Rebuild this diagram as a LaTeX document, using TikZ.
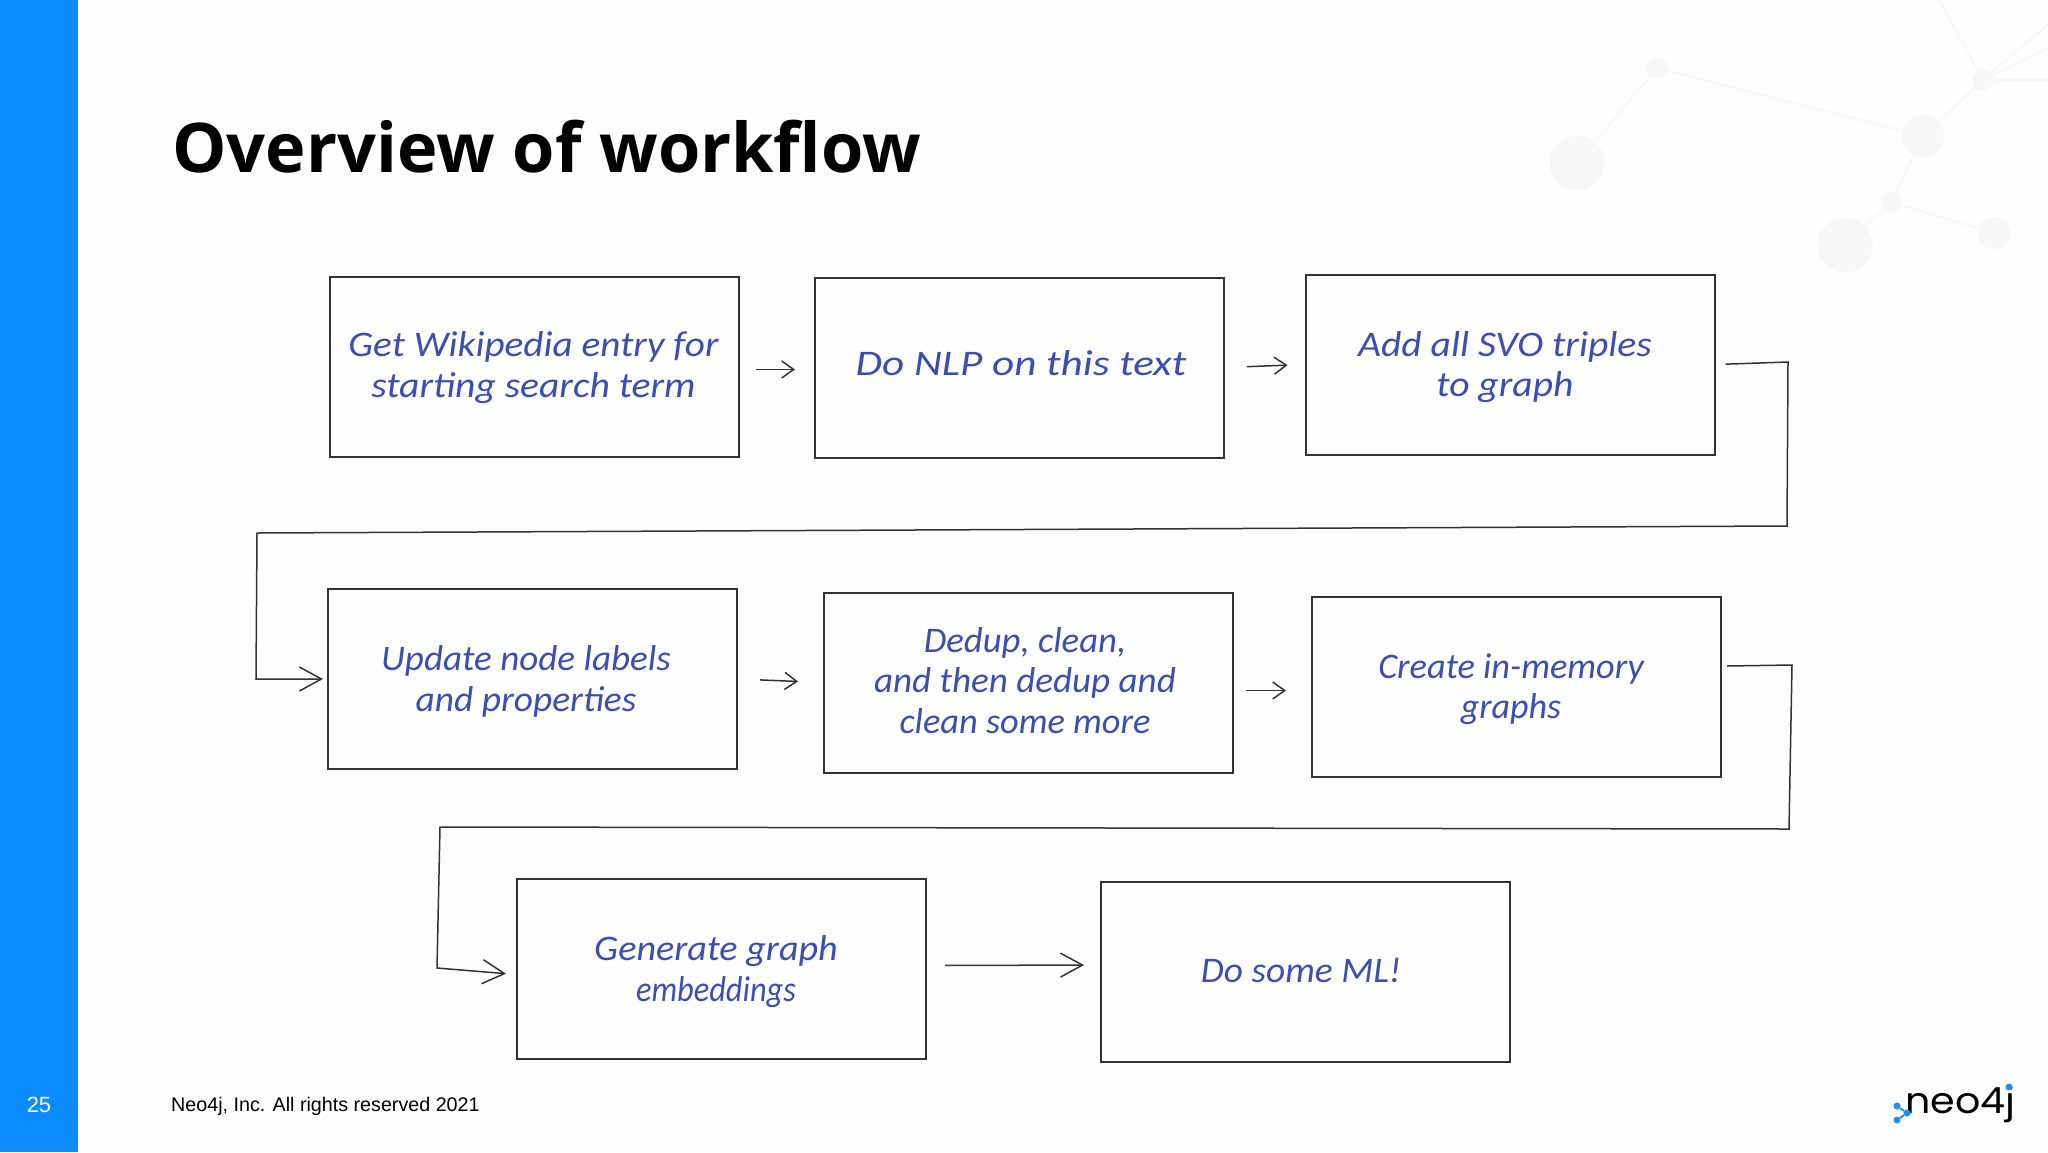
\documentclass[tikz,border=0pt]{standalone}
\usepackage{fontspec}
\usepackage{graphicx}
\usetikzlibrary{arrows.meta}
\setmainfont{Carlito}
\newfontfamily\titlefont{Open Sans}
\newfontfamily\footfont{Liberation Sans}
\newfontfamily\logofont{Poppins}
\definecolor{barblue}{HTML}{0A8CFF}
\definecolor{inkblue}{HTML}{3B4FB2}
\definecolor{ghost}{HTML}{F6F7F6}
\definecolor{logoblue}{HTML}{1E90F0}
\definecolor{linegray}{HTML}{333333}
\newcommand\hw[2]{\scalebox{#1}[1]{#2}}
\tikzset{
  x=1pt,y=-1pt,
  stepbox/.style={draw=linegray,line width=2pt,minimum width=409pt,minimum height=180pt,inner sep=0pt},
  steptext/.style={inner sep=0pt,align=center,text=inkblue,font=\fontsize{36}{40.5}\selectfont\itshape},
  flow/.style={draw=linegray,line width=1.5pt,-{Straight Barb[length=12pt,width=17pt,line width=1.5pt]}},
  longflow/.style={draw=linegray,line width=1.5pt,-{Straight Barb[length=22pt,width=24pt,line width=1.5pt]}},
  ghostdot/.style={circle,fill=ghost,inner sep=0pt},
  ghostline/.style={draw=ghost,line width=1.5pt},
  logodot/.style={circle,fill=logoblue,inner sep=0pt,minimum size=7pt},
}
\begin{document}
\begin{tikzpicture}
\useasboundingbox (0,0) rectangle (2048,1152);
\fill[white!99.5!black] (0,0) rectangle (2048,1152);
\fill[barblue] (0,0) rectangle (78,1152);
% background graph
\node[ghostdot,minimum size=55pt] (g1) at (1577,163) {};
\node[ghostdot,minimum size=22pt] (g2) at (1657,68) {};
\node[ghostdot,minimum size=42pt] (g3) at (1923,136) {};
\node[ghostdot,minimum size=21pt] (g4) at (1983,80) {};
\node[ghostdot,minimum size=21pt] (g5) at (1891,202) {};
\node[ghostdot,minimum size=55pt] (g6) at (1845,245) {};
\node[ghostdot,minimum size=32pt] (g7) at (1994,233) {};
\coordinate (ga) at (1939,0);
\coordinate (gb) at (2048,24);
\coordinate (gc) at (2048,48);
\coordinate (gd) at (2048,80);
\draw[ghostline] (g1)--(g2);
\draw[ghostline] (g2)--(g3);
\draw[ghostline] (g3)--(g4);
\draw[ghostline] (g3)--(g5);
\draw[ghostline] (g5)--(g6);
\draw[ghostline] (g5)--(g7);
\draw[ghostline] (g4)--(ga);
\draw[ghostline] (g4)--(gb);
\draw[ghostline] (g4)--(gc);
\draw[ghostline] (g4)--(gd);
% title
\node[anchor=base west,inner sep=0pt,font=\titlefont\bfseries\fontsize{68.5}{68.5}\selectfont] (title) at (172,172) {Overview of workflow};
% boxes
\node[stepbox] (b1) at (534.5,366.5) {};
\node[stepbox] (b2) at (1019.5,367.5) {};
\node[stepbox] (b3) at (1510,364.5) {};
\node[stepbox] (b4) at (532.5,679) {};
\node[stepbox] (b5) at (1028.5,682.5) {};
\node[stepbox] (b6) at (1516.5,686.5) {};
\node[stepbox] (b7) at (721.5,968.5) {};
\node[stepbox] (b8) at (1305.5,972) {};
% texts
\node[steptext] (t1) at (533.5,367.5) {\hw{1.09}{Get Wikipedia entry for}\\\hw{1.10}{starting search term}};
\node[steptext] (t2) at (1021,363) {\hw{1.20}{Do NLP on this text}};
\node[steptext] (t3) at (1505,367) {\hw{1.10}{Add all SVO triples}\\\hw{1.10}{to graph}};
\node[steptext] (t4) at (526,681.5) {\hw{1.03}{Update node labels}\\\hw{1.04}{and properties}};
\node[steptext] (t5) at (1025,680.5) {\hw{1.02}{Dedup, clean,}\\\hw{1.03}{and then dedup and}\\\hw{1.01}{clean some more}};
\node[steptext] (t6) at (1511,689) {\hw{1.01}{Create in-memory}\\graphs};
\node[steptext] (t7) at (716,971.5) {\hw{1.06}{Generate graph}\\\hw{0.90}{embeddings}};
\node[steptext] (t8) at (1301,970) {\hw{1.04}{Do some ML!}};
% connectors
\draw[flow,shorten <=16pt,shorten >=19pt] ([yshift=-3pt]b1.east) -- ([yshift=-2pt]b2.west);
\draw[flow,shorten <=22pt,shorten >=17pt] (b2.east) -- (b3.west);
\draw[flow,shorten <=22pt,shorten >=25pt] (b4.east) -- (b5.west);
\draw[flow,shorten <=12pt,shorten >=25pt] ([yshift=-8pt]b5.east) -- ([yshift=-4pt]b6.west);
\draw[longflow,shorten <=18pt,shorten >=16pt] ([yshift=3pt]b7.east) -- ([yshift=7pt]b8.west);
\coordinate (c1) at (1788,362);
\coordinate (c2) at (1787,526);
\coordinate (c3) at (257,533);
\coordinate (c4) at (256,679);
\draw[longflow,shorten <=10pt,shorten >=4pt] (b3.east) -- (c1) -- (c2) -- (c3) -- (c4) -- (b4.west);
\coordinate (d0) at (1727,666);
\coordinate (d1) at (1792,665);
\coordinate (d2) at (1789,829);
\coordinate (d3) at (440,827);
\coordinate (d4) at (437,968);
\draw[longflow,shorten >=10pt] (d0) -- (d1) -- (d2) -- (d3) -- (d4) -- ([yshift=-6pt]b7.west);
% footer
\node[anchor=center,inner sep=0pt,text=white,font=\footfont\fontsize{22}{22}\selectfont] (page) at (39,1105) {25};
\node[anchor=base west,inner sep=0pt,font=\footfont\fontsize{19.7}{19.7}\selectfont] (foot) at (171,1111) {Neo4j, Inc. All rights reserved 2021};
% logo
\node[anchor=base west,inner sep=0pt,font=\logofont\fontsize{36}{36}\selectfont] (logo) at (1905,1113) {\hw{1.1}{neo4j}};
\node[logodot] (l1) at (1897,1106) {};
\node[logodot] (l2) at (1907,1113) {};
\node[logodot] (l3) at (1897,1120) {};
\node[logodot] (l4) at (2009,1087) {};
\draw[logoblue,line width=2pt] (l1)--(l2)--(l3);
\end{tikzpicture}
\end{document}
